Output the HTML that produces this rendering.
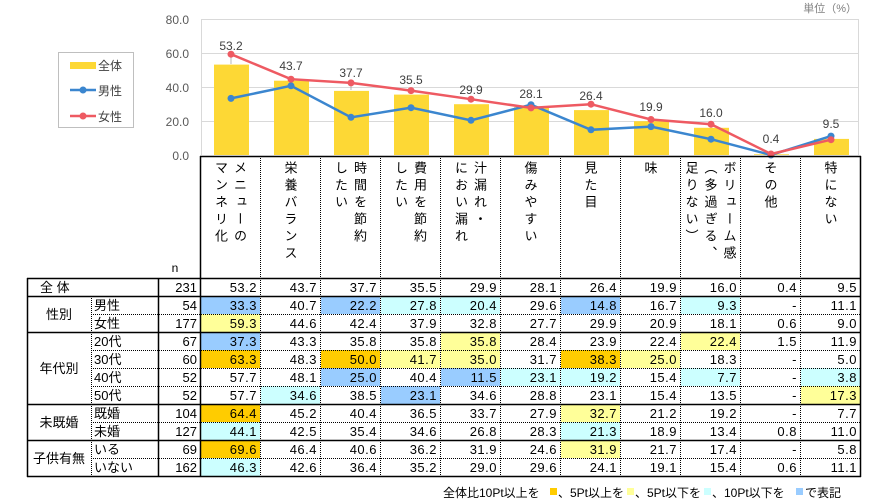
<!DOCTYPE html>
<html><head><meta charset="utf-8"><style>
body{margin:0;background:#fff;width:878px;height:504px;overflow:hidden;position:relative;font-family:"Liberation Sans","Noto Sans CJK JP",sans-serif}
svg{position:absolute;left:0;top:0}
.h{position:absolute;top:161px;width:60px;text-align:center;font-size:13px;color:#000}
.h span{display:inline-block;writing-mode:vertical-rl;line-height:19px;letter-spacing:4px;text-align:left}
</style></head><body>
<svg width="878" height="504" xmlns="http://www.w3.org/2000/svg" font-family="Liberation Sans, Noto Sans CJK JP, sans-serif">
<g stroke="#d9d9d9" stroke-width="1">
<line x1="201" y1="19.5" x2="858" y2="19.5"/><line x1="201" y1="53.5" x2="858" y2="53.5"/><line x1="201" y1="87.5" x2="858" y2="87.5"/><line x1="201" y1="121.5" x2="858" y2="121.5"/>
<line x1="201.5" y1="19" x2="201.5" y2="155"/><line x1="858.5" y1="19" x2="858.5" y2="155"/>
</g>
<g fill="#595959" font-size="12" text-anchor="end">
<text x="189" y="24">80.0</text><text x="189" y="58">60.0</text><text x="189" y="92">40.0</text><text x="189" y="126">20.0</text><text x="189" y="160">0.0</text>
</g>
<text x="857" y="12" font-size="11" fill="#7f7f7f" text-anchor="end">単位（%）</text>
<g fill="#FDD835">
<rect x="214" y="64.6" width="35" height="90.4"/><rect x="274" y="80.7" width="35" height="74.3"/><rect x="334" y="90.9" width="35" height="64.1"/><rect x="394" y="94.6" width="35" height="60.4"/><rect x="454" y="104.2" width="35" height="50.8"/><rect x="514" y="107.2" width="35" height="47.8"/><rect x="574" y="110.1" width="35" height="44.9"/><rect x="634" y="121.2" width="35" height="33.8"/><rect x="694" y="127.8" width="35" height="27.2"/><rect x="754" y="154.3" width="35" height="0.7"/><rect x="814" y="138.9" width="35" height="16.1"/>
</g>
<g stroke="#a6a6a6" stroke-width="0.8"><line x1="231" y1="54" x2="231" y2="64"/><line x1="351" y1="80" x2="351" y2="90"/></g>
<g fill="#404040" font-size="12" text-anchor="middle">
<text x="231" y="50">53.2</text><text x="291" y="70">43.7</text><text x="351" y="77">37.7</text><text x="411" y="84">35.5</text><text x="471" y="94">29.9</text><text x="531" y="98">28.1</text><text x="591" y="100">26.4</text><text x="651" y="111">19.9</text><text x="711" y="117">16.0</text><text x="771" y="143">0.4</text><text x="831" y="128">9.5</text>
</g>
<polyline fill="none" stroke="#3B86CF" stroke-width="2.5" points="231,98.4 291,85.8 351,117.3 411,107.7 471,120.3 531,104.7 591,129.8 651,126.6 711,139.2 771,155 831,136.1"/>
<g fill="#3B86CF"><circle cx="231" cy="98.4" r="3.5"/><circle cx="291" cy="85.8" r="3.5"/><circle cx="351" cy="117.3" r="3.5"/><circle cx="411" cy="107.7" r="3.5"/><circle cx="471" cy="120.3" r="3.5"/><circle cx="531" cy="104.7" r="3.5"/><circle cx="591" cy="129.8" r="3.5"/><circle cx="651" cy="126.6" r="3.5"/><circle cx="711" cy="139.2" r="3.5"/><circle cx="771" cy="155" r="3.5"/><circle cx="831" cy="136.1" r="3.5"/></g>
<polyline fill="none" stroke="#EE5A62" stroke-width="2.5" points="231,54.2 291,79.2 351,82.9 411,90.6 471,99.2 531,107.9 591,104.2 651,119.5 711,124.2 771,154 831,139.7"/>
<g fill="#EE5A62"><circle cx="231" cy="54.2" r="3.5"/><circle cx="291" cy="79.2" r="3.5"/><circle cx="351" cy="82.9" r="3.5"/><circle cx="411" cy="90.6" r="3.5"/><circle cx="471" cy="99.2" r="3.5"/><circle cx="531" cy="107.9" r="3.5"/><circle cx="591" cy="104.2" r="3.5"/><circle cx="651" cy="119.5" r="3.5"/><circle cx="711" cy="124.2" r="3.5"/><circle cx="771" cy="154" r="3.5"/><circle cx="831" cy="139.7" r="3.5"/></g>
<rect x="58.5" y="52.5" width="75" height="75" fill="#fff" stroke="#bfbfbf"/>
<rect x="70" y="62" width="26" height="7" fill="#FDD835"/>
<line x1="70" y1="90" x2="96" y2="90" stroke="#3B86CF" stroke-width="2.5"/><circle cx="83" cy="90" r="3.5" fill="#3B86CF"/>
<line x1="70" y1="116" x2="96" y2="116" stroke="#EE5A62" stroke-width="2.5"/><circle cx="83" cy="116" r="3.5" fill="#EE5A62"/>
<g font-size="12" fill="#404040"><text x="98" y="70">全体</text><text x="98" y="95">男性</text><text x="98" y="121">女性</text></g>
<g>
<rect x="201" y="296" width="59" height="18" fill="#99CCFF"/><rect x="321" y="296" width="59" height="18" fill="#99CCFF"/><rect x="381" y="296" width="59" height="18" fill="#CCFFFF"/><rect x="441" y="296" width="59" height="18" fill="#CCFFFF"/><rect x="561" y="296" width="59" height="18" fill="#99CCFF"/><rect x="681" y="296" width="59" height="18" fill="#CCFFFF"/>
<rect x="201" y="314" width="59" height="18" fill="#FFFF99"/>
<rect x="201" y="332" width="59" height="18" fill="#99CCFF"/><rect x="441" y="332" width="59" height="18" fill="#FFFF99"/><rect x="681" y="332" width="59" height="18" fill="#FFFF99"/>
<rect x="201" y="350" width="59" height="18" fill="#FFCC00"/><rect x="321" y="350" width="59" height="18" fill="#FFCC00"/><rect x="381" y="350" width="59" height="18" fill="#FFFF99"/><rect x="441" y="350" width="59" height="18" fill="#FFFF99"/><rect x="561" y="350" width="59" height="18" fill="#FFCC00"/><rect x="621" y="350" width="59" height="18" fill="#FFFF99"/>
<rect x="321" y="368" width="59" height="18" fill="#99CCFF"/><rect x="441" y="368" width="59" height="18" fill="#99CCFF"/><rect x="501" y="368" width="59" height="18" fill="#CCFFFF"/><rect x="561" y="368" width="59" height="18" fill="#CCFFFF"/><rect x="681" y="368" width="59" height="18" fill="#CCFFFF"/><rect x="801" y="368" width="59" height="18" fill="#CCFFFF"/>
<rect x="261" y="386" width="59" height="18" fill="#CCFFFF"/><rect x="381" y="386" width="59" height="18" fill="#99CCFF"/><rect x="801" y="386" width="59" height="18" fill="#FFFF99"/>
<rect x="201" y="404" width="59" height="18" fill="#FFCC00"/><rect x="561" y="404" width="59" height="18" fill="#FFFF99"/>
<rect x="201" y="422" width="59" height="18" fill="#CCFFFF"/><rect x="561" y="422" width="59" height="18" fill="#CCFFFF"/>
<rect x="201" y="440" width="59" height="18" fill="#FFCC00"/><rect x="561" y="440" width="59" height="18" fill="#FFFF99"/>
<rect x="201" y="458" width="59" height="18" fill="#CCFFFF"/>
</g>
<g stroke="#000" stroke-width="1" stroke-dasharray="1,1">
<line x1="260.5" y1="156" x2="260.5" y2="476"/><line x1="320.5" y1="156" x2="320.5" y2="476"/><line x1="380.5" y1="156" x2="380.5" y2="476"/><line x1="440.5" y1="156" x2="440.5" y2="476"/><line x1="500.5" y1="156" x2="500.5" y2="476"/><line x1="560.5" y1="156" x2="560.5" y2="476"/><line x1="620.5" y1="156" x2="620.5" y2="476"/><line x1="680.5" y1="156" x2="680.5" y2="476"/><line x1="740.5" y1="156" x2="740.5" y2="476"/><line x1="800.5" y1="156" x2="800.5" y2="476"/>
<line x1="91.5" y1="296" x2="91.5" y2="476"/>
<line x1="91" y1="314.5" x2="860" y2="314.5"/><line x1="91" y1="350.5" x2="860" y2="350.5"/><line x1="91" y1="368.5" x2="860" y2="368.5"/><line x1="91" y1="386.5" x2="860" y2="386.5"/><line x1="91" y1="422.5" x2="860" y2="422.5"/><line x1="91" y1="458.5" x2="860" y2="458.5"/>
</g>
<g stroke="#000" stroke-width="1.5">
<line x1="200" y1="156.5" x2="861" y2="156.5"/>
<line x1="200.5" y1="156" x2="200.5" y2="477"/><line x1="860.5" y1="156" x2="860.5" y2="477"/>
<line x1="27" y1="278.5" x2="861" y2="278.5"/><line x1="27" y1="296.5" x2="861" y2="296.5"/><line x1="27" y1="332.5" x2="861" y2="332.5"/><line x1="27" y1="404.5" x2="861" y2="404.5"/><line x1="27" y1="440.5" x2="861" y2="440.5"/><line x1="27" y1="476.5" x2="861" y2="476.5"/>
<line x1="27.5" y1="278" x2="27.5" y2="477"/><line x1="158.5" y1="278" x2="158.5" y2="477"/>
</g>
<text x="175" y="272" font-size="12" text-anchor="middle">n</text>
<g font-size="13" fill="#000">
<text x="40" y="292">全  体</text>
<text x="59" y="319" text-anchor="middle">性別</text>
<text x="59" y="373" text-anchor="middle">年代別</text>
<text x="59" y="427" text-anchor="middle">未既婚</text>
<text x="59" y="463" text-anchor="middle">子供有無</text>
<text x="94" y="310">男性</text><text x="94" y="328">女性</text>
<text x="94" y="346">20代</text><text x="94" y="364">30代</text><text x="94" y="382">40代</text><text x="94" y="400">50代</text>
<text x="94" y="418">既婚</text><text x="94" y="436">未婚</text>
<text x="94" y="454">いる</text><text x="94" y="472">いない</text>
</g>
<g font-size="13" fill="#000" text-anchor="end">
<text x="197" y="292">231</text><text x="197" y="310">54</text><text x="197" y="328">177</text><text x="197" y="346">67</text><text x="197" y="364">60</text><text x="197" y="382">52</text><text x="197" y="400">52</text><text x="197" y="418">104</text><text x="197" y="436">127</text><text x="197" y="454">69</text><text x="197" y="472">162</text>
</g>
<g font-size="13" fill="#000" text-anchor="end" letter-spacing="0.5">
<text y="292"><tspan x="257">53.2</tspan><tspan x="317">43.7</tspan><tspan x="377">37.7</tspan><tspan x="437">35.5</tspan><tspan x="497">29.9</tspan><tspan x="557">28.1</tspan><tspan x="617">26.4</tspan><tspan x="677">19.9</tspan><tspan x="737">16.0</tspan><tspan x="797">0.4</tspan><tspan x="857">9.5</tspan></text>
<text y="310"><tspan x="257">33.3</tspan><tspan x="317">40.7</tspan><tspan x="377">22.2</tspan><tspan x="437">27.8</tspan><tspan x="497">20.4</tspan><tspan x="557">29.6</tspan><tspan x="617">14.8</tspan><tspan x="677">16.7</tspan><tspan x="737">9.3</tspan><tspan x="797">-</tspan><tspan x="857">11.1</tspan></text>
<text y="328"><tspan x="257">59.3</tspan><tspan x="317">44.6</tspan><tspan x="377">42.4</tspan><tspan x="437">37.9</tspan><tspan x="497">32.8</tspan><tspan x="557">27.7</tspan><tspan x="617">29.9</tspan><tspan x="677">20.9</tspan><tspan x="737">18.1</tspan><tspan x="797">0.6</tspan><tspan x="857">9.0</tspan></text>
<text y="346"><tspan x="257">37.3</tspan><tspan x="317">43.3</tspan><tspan x="377">35.8</tspan><tspan x="437">35.8</tspan><tspan x="497">35.8</tspan><tspan x="557">28.4</tspan><tspan x="617">23.9</tspan><tspan x="677">22.4</tspan><tspan x="737">22.4</tspan><tspan x="797">1.5</tspan><tspan x="857">11.9</tspan></text>
<text y="364"><tspan x="257">63.3</tspan><tspan x="317">48.3</tspan><tspan x="377">50.0</tspan><tspan x="437">41.7</tspan><tspan x="497">35.0</tspan><tspan x="557">31.7</tspan><tspan x="617">38.3</tspan><tspan x="677">25.0</tspan><tspan x="737">18.3</tspan><tspan x="797">-</tspan><tspan x="857">5.0</tspan></text>
<text y="382"><tspan x="257">57.7</tspan><tspan x="317">48.1</tspan><tspan x="377">25.0</tspan><tspan x="437">40.4</tspan><tspan x="497">11.5</tspan><tspan x="557">23.1</tspan><tspan x="617">19.2</tspan><tspan x="677">15.4</tspan><tspan x="737">7.7</tspan><tspan x="797">-</tspan><tspan x="857">3.8</tspan></text>
<text y="400"><tspan x="257">57.7</tspan><tspan x="317">34.6</tspan><tspan x="377">38.5</tspan><tspan x="437">23.1</tspan><tspan x="497">34.6</tspan><tspan x="557">28.8</tspan><tspan x="617">23.1</tspan><tspan x="677">15.4</tspan><tspan x="737">13.5</tspan><tspan x="797">-</tspan><tspan x="857">17.3</tspan></text>
<text y="418"><tspan x="257">64.4</tspan><tspan x="317">45.2</tspan><tspan x="377">40.4</tspan><tspan x="437">36.5</tspan><tspan x="497">33.7</tspan><tspan x="557">27.9</tspan><tspan x="617">32.7</tspan><tspan x="677">21.2</tspan><tspan x="737">19.2</tspan><tspan x="797">-</tspan><tspan x="857">7.7</tspan></text>
<text y="436"><tspan x="257">44.1</tspan><tspan x="317">42.5</tspan><tspan x="377">35.4</tspan><tspan x="437">34.6</tspan><tspan x="497">26.8</tspan><tspan x="557">28.3</tspan><tspan x="617">21.3</tspan><tspan x="677">18.9</tspan><tspan x="737">13.4</tspan><tspan x="797">0.8</tspan><tspan x="857">11.0</tspan></text>
<text y="454"><tspan x="257">69.6</tspan><tspan x="317">46.4</tspan><tspan x="377">40.6</tspan><tspan x="437">36.2</tspan><tspan x="497">31.9</tspan><tspan x="557">24.6</tspan><tspan x="617">31.9</tspan><tspan x="677">21.7</tspan><tspan x="737">17.4</tspan><tspan x="797">-</tspan><tspan x="857">5.8</tspan></text>
<text y="472"><tspan x="257">46.3</tspan><tspan x="317">42.6</tspan><tspan x="377">36.4</tspan><tspan x="437">35.2</tspan><tspan x="497">29.0</tspan><tspan x="557">29.6</tspan><tspan x="617">24.1</tspan><tspan x="677">19.1</tspan><tspan x="737">15.4</tspan><tspan x="797">0.6</tspan><tspan x="857">11.1</tspan></text>
</g>
<g font-size="12" fill="#000">
<text x="443" y="497">全体比10Pt以上を</text><rect x="550" y="488" width="7" height="7" fill="#FFCC00"/>
<text x="558" y="497">、5Pt以上を</text><rect x="627" y="488" width="7" height="7" fill="#FFFF99"/>
<text x="635" y="497">、5Pt以下を</text><rect x="704" y="488" width="7" height="7" fill="#CCFFFF"/>
<text x="712" y="497">、10Pt以下を</text><rect x="796" y="488" width="7" height="7" fill="#99CCFF"/>
<text x="805" y="497">で表記</text>
</g>
</svg>
<div class="h" style="left:200px"><span>メニューの<br>マンネリ化</span></div>
<div class="h" style="left:260px"><span>栄養バランス</span></div>
<div class="h" style="left:320px"><span>時間を節約<br>したい</span></div>
<div class="h" style="left:380px"><span>費用を節約<br>したい</span></div>
<div class="h" style="left:440px"><span>汁漏れ・<br>におい漏れ</span></div>
<div class="h" style="left:500px"><span>傷みやすい</span></div>
<div class="h" style="left:560px"><span>見た目</span></div>
<div class="h" style="left:620px"><span>味</span></div>
<div class="h" style="left:680px"><span>ボリューム感<br>（多過ぎる、<br>足りない）</span></div>
<div class="h" style="left:740px"><span>その他</span></div>
<div class="h" style="left:800px"><span>特にない</span></div>
</body></html>
